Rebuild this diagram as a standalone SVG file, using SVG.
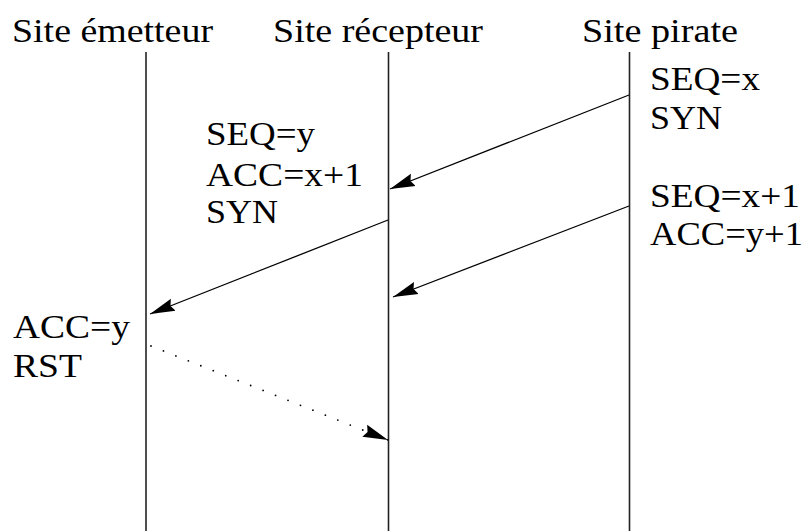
<svg xmlns="http://www.w3.org/2000/svg" width="808" height="531" viewBox="0 0 808 531">
  <style>
    text { font-family: "Liberation Serif", "Times New Roman", serif; font-size: 34px; fill: #000; }
    .life { stroke: #222; stroke-width: 1.6; fill: none; }
    .msg { stroke: #000; stroke-width: 1.3; fill: none; marker-end: url(#head); }
    .dot { stroke: #000; stroke-width: 1.8; fill: none; stroke-linecap: round; stroke-dasharray: 0 13.4; marker-end: url(#head); }
  </style>
  <defs>
    <marker id="head" markerUnits="userSpaceOnUse" markerWidth="28" markerHeight="18" refX="25" refY="9" orient="auto">
      <path d="M0,2.5 L25,9 L0,15.5 L3,9 Z" fill="#000"/>
    </marker>
  </defs>

  <!-- sites and their timelines -->
  <g id="emetteur">
    <text x="12" y="42" textLength="201" lengthAdjust="spacingAndGlyphs">Site émetteur</text>
    <line class="life" x1="146" y1="52" x2="146" y2="531"/>
    <text x="13" y="338" textLength="117" lengthAdjust="spacingAndGlyphs">ACC=y</text>
    <text x="13" y="377" textLength="69" lengthAdjust="spacingAndGlyphs">RST</text>
  </g>
  <g id="recepteur">
    <text x="273" y="42" textLength="210" lengthAdjust="spacingAndGlyphs">Site récepteur</text>
    <line class="life" x1="388.5" y1="52" x2="388.5" y2="531"/>
    <text x="206" y="145" textLength="109" lengthAdjust="spacingAndGlyphs">SEQ=y</text>
    <text x="206" y="186" textLength="157" lengthAdjust="spacingAndGlyphs">ACC=x+1</text>
    <text x="206" y="223" textLength="72" lengthAdjust="spacingAndGlyphs">SYN</text>
  </g>
  <g id="pirate">
    <text x="582" y="42" textLength="156" lengthAdjust="spacingAndGlyphs">Site pirate</text>
    <line class="life" x1="629.5" y1="52" x2="629.5" y2="531"/>
    <text x="650" y="90" textLength="110" lengthAdjust="spacingAndGlyphs">SEQ=x</text>
    <text x="650" y="129" textLength="72" lengthAdjust="spacingAndGlyphs">SYN</text>
    <text x="650" y="207" textLength="150" lengthAdjust="spacingAndGlyphs">SEQ=x+1</text>
    <text x="650" y="245" textLength="153" lengthAdjust="spacingAndGlyphs">ACC=y+1</text>
  </g>

  <!-- messages -->
  <g id="connectors">
    <line class="msg" x1="629" y1="95" x2="390" y2="189"/>
    <line class="msg" x1="388" y1="220" x2="150" y2="314"/>
    <line class="msg" x1="629" y1="206" x2="393" y2="297"/>
    <line class="dot" x1="151" y1="346" x2="388" y2="440"/>
  </g>
</svg>
